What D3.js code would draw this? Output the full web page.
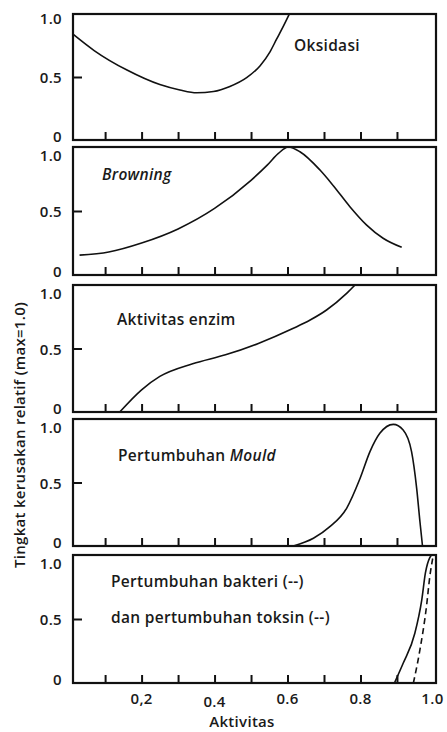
<!DOCTYPE html>
<html>
<head>
<meta charset="utf-8">
<script src="https://cdn.jsdelivr.net/npm/d3@7"></script>
<style>
  body { margin: 0; background: #fff; }
  svg text { font-family: "Open Sans", sans-serif; font-weight: 600; fill: #1a1a1a; letter-spacing: 0.3px; }
</style>
</head>
<body>
<div id="chart"></div>
<script>
// values, x = aktivitas air, y = relative rate
var oksidasiX = [0.012, 0.07, 0.16, 0.25, 0.305, 0.351, 0.397, 0.442, 0.488, 0.525, 0.552, 0.57, 0.588, 0.605];
var oksidasiY = [0.84, 0.71, 0.555, 0.44, 0.397, 0.375, 0.385, 0.425, 0.495, 0.59, 0.70, 0.80, 0.90, 1.0];

var browningX = [0.03, 0.11, 0.2, 0.3, 0.4, 0.5, 0.545, 0.575, 0.602, 0.634, 0.689, 0.725, 0.771, 0.817, 0.862, 0.913];
var browningY = [0.155, 0.18, 0.25, 0.36, 0.52, 0.74, 0.86, 0.95, 1.0, 0.963, 0.82, 0.70, 0.534, 0.39, 0.287, 0.216];

var enzimX = [0.14, 0.2, 0.25, 0.34, 0.43, 0.52, 0.616, 0.662, 0.707, 0.762, 0.785];
var enzimY = [0, 0.175, 0.28, 0.38, 0.45, 0.54, 0.659, 0.724, 0.803, 0.934, 1.0];

var mouldX = [0.616, 0.671, 0.716, 0.762, 0.799, 0.826, 0.853, 0.89, 0.917, 0.94, 0.954, 0.963, 0.97];
var mouldY = [0, 0.061, 0.152, 0.297, 0.533, 0.743, 0.887, 0.958, 0.913, 0.743, 0.454, 0.191, 0];

var bakteriX = [0.893, 0.917, 0.949, 0.968, 0.978, 0.99, 0.995];
var bakteriY = [0, 0.154, 0.389, 0.65, 0.86, 0.98, 1.0];

var toksinX = [0.945, 0.963, 0.981, 0.99, 0.999];
var toksinY = [0, 0.26, 0.6, 0.83, 0.99];

var minorTicks = [0.1, 0.2, 0.3, 0.4, 0.5, 0.6, 0.7, 0.8, 0.9];
var xTickValues = [0.2, 0.4, 0.6, 0.8, 1.0];
var xTickLabels = ["0,2", "0.4", "0.6", "0.8", "1.0"];
var yTickValues = [0, 0.5, 1.0];
var yTickLabels = ["0", "0.5", "1.0"];

function pairs(xs, ys) {
  return xs.map(function(x, i) { return [x, ys[i]]; });
}

var panels = [
  { lines: [pairs(oksidasiX, oksidasiY)], dashed: [false] },
  { lines: [pairs(browningX, browningY)], dashed: [false] },
  { lines: [pairs(enzimX, enzimY)], dashed: [false] },
  { lines: [pairs(mouldX, mouldY)], dashed: [false] },
  { lines: [pairs(bakteriX, bakteriY), pairs(toksinX, toksinY)], dashed: [false, true] }
];

// layout
var width = 447, height = 732;
var left = 73, right = 436;
var panelTop = [14, 147, 285, 419, 555];
var panelBottom = [140, 275, 412, 546, 683];

var svg = d3.select("#chart")
  .append("svg")
    .attr("width", width)
    .attr("height", height);

var x = d3.scaleLinear()
  .domain([0.012, 1.007])
  .range([left, right]);

var line = d3.line()
  .x(function(d) { return x(d[0]); })
  .curve(d3.curveMonotoneX);

panels.forEach(function(p, i) {
  var y = d3.scaleLinear()
    .domain([0, 1])
    .range([panelBottom[i], panelTop[i]]);

  var g = svg.append("g");

  // curves
  p.lines.forEach(function(pts, k) {
    g.append("path")
      .datum(pts)
      .attr("fill", "none")
      .attr("stroke", "#111")
      .attr("stroke-width", 1.6)
      .attr("stroke-dasharray", p.dashed[k] ? "6,4" : null)
      .attr("d", line.y(function(d) { return y(d[1]); }));
  });

  // inward ticks on bottom
  g.append("g")
    .attr("transform", "translate(0," + panelBottom[i] + ")")
    .call(d3.axisBottom(x).tickValues(minorTicks).tickSize(-8).tickFormat(""))
    .call(function(a) {
      a.select(".domain").remove();
      a.selectAll("line").attr("stroke", "#111").attr("stroke-width", 2);
    });

  // inward tick at 0.5
  g.append("g")
    .attr("transform", "translate(" + left + ",0)")
    .call(d3.axisLeft(y).tickValues([0.5]).tickSize(-9).tickFormat(""))
    .call(function(a) {
      a.select(".domain").remove();
      a.selectAll("line").attr("stroke", "#111").attr("stroke-width", 2);
    });

  // frame
  g.append("rect")
    .attr("x", x(0.012))
    .attr("y", y(1))
    .attr("width", x(1.007) - x(0.012))
    .attr("height", y(0) - y(1))
    .attr("fill", "none")
    .attr("stroke", "#111")
    .attr("stroke-width", 2.2);

  // y labels
  var dys = [2, 6, i === 0 ? 10 : 14];
  g.selectAll(".ylab")
    .data(yTickValues)
    .enter()
    .append("text")
      .attr("x", 62)
      .attr("y", function(d, j) { return y(d) + dys[j]; })
      .attr("text-anchor", "end")
      .style("font-size", "15px")
      .text(function(d, j) { return yTickLabels[j]; });
});

// panel titles
function title(px, py, parts) {
  var t = svg.append("text")
    .attr("x", px)
    .attr("y", py)
    .style("font-size", "15.5px");
  parts.forEach(function(s) {
    t.append("tspan")
      .style("font-style", s[1] ? "italic" : "normal")
      .text(s[0]);
  });
}
title(294, 51, [["Oksidasi", false]]);
title(102, 180, [["Browning", true]]);
title(117, 325, [["Aktivitas enzim", false]]);
title(118, 461, [["Pertumbuhan ", false], ["Mould", true]]);
title(111, 587, [["Pertumbuhan bakteri (--)", false]]);
title(111, 623, [["dan pertumbuhan toksin (--)", false]]);

// bottom tick labels
svg.selectAll(".xlab")
  .data(xTickValues)
  .enter()
  .append("text")
    .attr("x", function(d) { return x(d) - (d === 1 ? 1 : 0); })
    .attr("y", function(d) { return d === 0.4 ? 707 : 704; })
    .attr("text-anchor", "middle")
    .style("font-size", "15px")
    .text(function(d, j) { return xTickLabels[j]; });

svg.append("text")
  .attr("x", 242)
  .attr("y", 727)
  .attr("text-anchor", "middle")
  .style("font-size", "15px")
  .text("Aktivitas");

svg.append("text")
  .attr("transform", "translate(25,435) rotate(-90)")
  .attr("text-anchor", "middle")
  .style("font-size", "15px")
  .text("Tingkat kerusakan relatif (max=1.0)");
</script>
</body>
</html>
